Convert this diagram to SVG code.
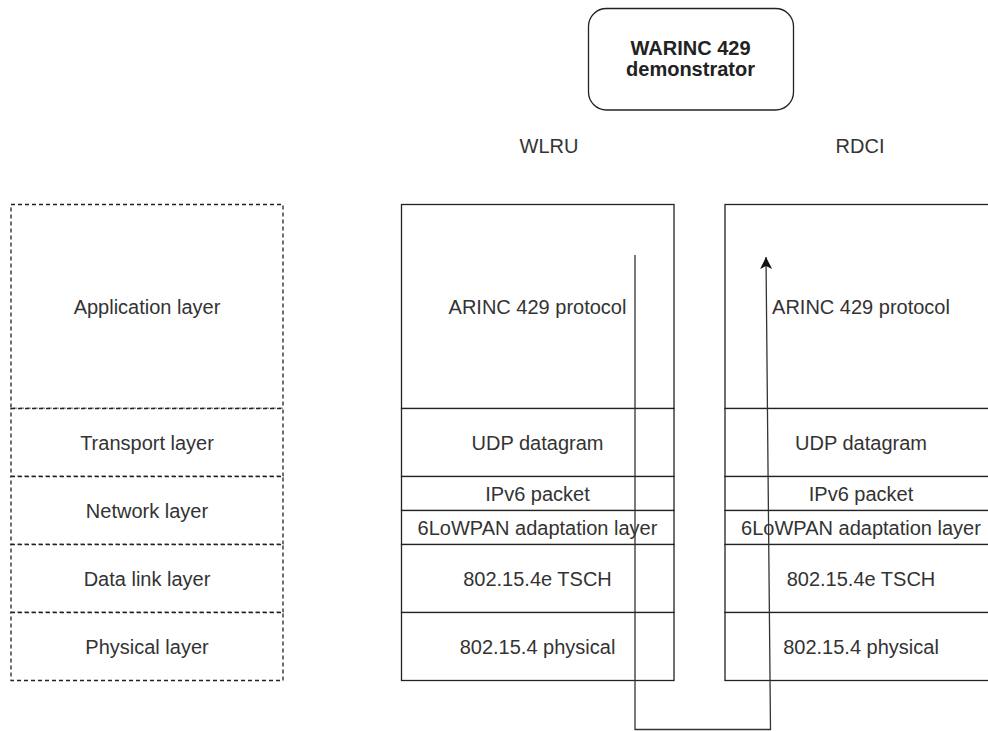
<svg xmlns="http://www.w3.org/2000/svg" width="988" height="731" viewBox="0 0 988 731">
<style>
  text { font-family: "Liberation Sans", Arial, sans-serif; font-size: 20px; fill: #333; text-anchor: middle; }
  .b { font-weight: bold; fill: #222; }
  .cell { fill: #fff; stroke: #222; stroke-width: 1.3; }
  .dash { fill: #fff; stroke: #222; stroke-width: 1.3; stroke-dasharray: 4 3; }
  .conn { fill: none; stroke: #333; stroke-width: 1.3; }
</style>
<defs>
  <marker id="arr" markerUnits="userSpaceOnUse" markerWidth="14" markerHeight="14" refX="12" refY="6" orient="auto">
    <path d="M0,0 L12,6 L0,12 L3,6 Z" fill="#111"/>
  </marker>
</defs>
<rect width="988" height="731" fill="#fff"/>

<g id="demonstrator">
  <rect x="588.5" y="8.5" width="205" height="101.5" rx="18" ry="18" class="cell"/>
  <text x="690.5" y="55" class="b">WARINC 429</text>
  <text x="690.5" y="76" class="b">demonstrator</text>
</g>
<g id="label-wlru"><text x="549" y="153">WLRU</text></g>
<g id="label-rdci"><text x="860" y="153">RDCI</text></g>

<g id="osi">
  <g id="osi-app"><rect x="11" y="204.5" width="272" height="204" class="dash"/><text x="147" y="313.5">Application layer</text></g>
  <g id="osi-transport"><rect x="11" y="408.5" width="272" height="68" class="dash"/><text x="147" y="449.5">Transport layer</text></g>
  <g id="osi-network"><rect x="11" y="476.5" width="272" height="68" class="dash"/><text x="147" y="517.5">Network layer</text></g>
  <g id="osi-datalink"><rect x="11" y="544.5" width="272" height="68" class="dash"/><text x="147" y="585.5">Data link layer</text></g>
  <g id="osi-physical"><rect x="11" y="612.5" width="272" height="68" class="dash"/><text x="147" y="653.5">Physical layer</text></g>
</g>

<g id="wlru">
  <g id="wlru-app"><rect x="401.5" y="204.5" width="272.5" height="204" class="cell"/><text x="537.5" y="313.5">ARINC 429 protocol</text></g>
  <g id="wlru-udp"><rect x="401.5" y="408.5" width="272.5" height="68" class="cell"/><text x="537.5" y="449.5">UDP datagram</text></g>
  <g id="wlru-ipv6"><rect x="401.5" y="476.5" width="272.5" height="34" class="cell"/><text x="537.5" y="500.5">IPv6 packet</text></g>
  <g id="wlru-6lowpan"><rect x="401.5" y="510.5" width="272.5" height="34" class="cell"/><text x="537.5" y="534.5">6LoWPAN adaptation layer</text></g>
  <g id="wlru-tsch"><rect x="401.5" y="544.5" width="272.5" height="68" class="cell"/><text x="537.5" y="585.5">802.15.4e TSCH</text></g>
  <g id="wlru-phy"><rect x="401.5" y="612.5" width="272.5" height="68" class="cell"/><text x="537.5" y="653.5">802.15.4 physical</text></g>
</g>

<g id="rdci">
  <g id="rdci-app"><rect x="725" y="204.5" width="272.5" height="204" class="cell"/><text x="861" y="313.5">ARINC 429 protocol</text></g>
  <g id="rdci-udp"><rect x="725" y="408.5" width="272.5" height="68" class="cell"/><text x="861" y="449.5">UDP datagram</text></g>
  <g id="rdci-ipv6"><rect x="725" y="476.5" width="272.5" height="34" class="cell"/><text x="861" y="500.5">IPv6 packet</text></g>
  <g id="rdci-6lowpan"><rect x="725" y="510.5" width="272.5" height="34" class="cell"/><text x="861" y="534.5">6LoWPAN adaptation layer</text></g>
  <g id="rdci-tsch"><rect x="725" y="544.5" width="272.5" height="68" class="cell"/><text x="861" y="585.5">802.15.4e TSCH</text></g>
  <g id="rdci-phy"><rect x="725" y="612.5" width="272.5" height="68" class="cell"/><text x="861" y="653.5">802.15.4 physical</text></g>
</g>

<g id="connectors">
  <path class="conn" d="M635,255 L635,729.5 L770.5,729.5 L766,257" marker-end="url(#arr)"/>
</g>
</svg>
